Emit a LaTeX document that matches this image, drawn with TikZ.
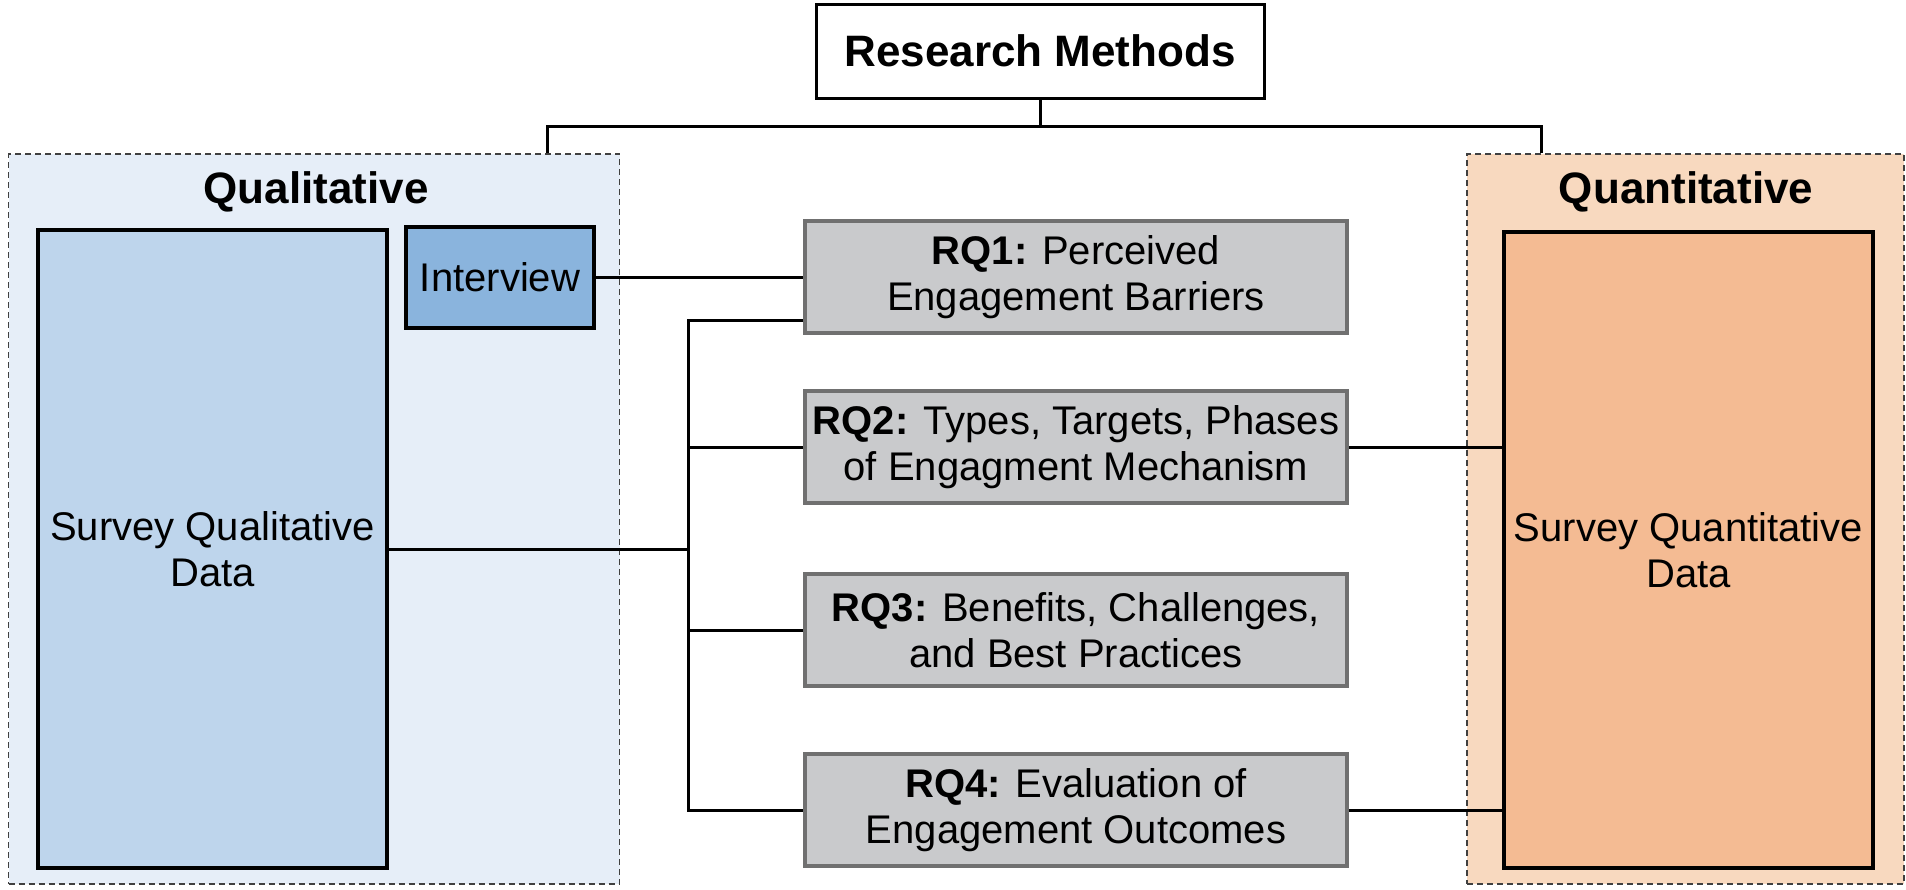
\documentclass[tikz,border=0pt]{standalone}
\usepackage{fontspec}
\setmainfont{Liberation Sans}
\usetikzlibrary{positioning}
\definecolor{qualbg}{HTML}{E6EEF8}
\definecolor{quantbg}{HTML}{F8D9BF}
\definecolor{sqfill}{HTML}{BED5EC}
\definecolor{sqtfill}{HTML}{F4BB93}
\definecolor{ivfill}{HTML}{8AB4DD}
\definecolor{rqfill}{HTML}{C9CACC}
\definecolor{rqborder}{HTML}{707070}
\definecolor{dashgray}{HTML}{404040}
\newcommand{\lblfont}{\fontsize{40}{46}\selectfont}
\newcommand{\ttlfont}{\fontsize{44}{50}\selectfont\bfseries}
\begin{document}
\begin{tikzpicture}[x=1pt,y=-1pt,line width=3pt,
        group/.style={draw=dashgray,dash pattern=on 6pt off 4pt,line width=1.6pt,minimum height=730pt},
        src/.style={draw,line width=3.5pt,align=center,font=\lblfont},
        rq/.style={draw=rqborder,fill=rqfill,line width=3.5pt,minimum width=542pt,minimum height=112pt,align=center,font=\lblfont}]
            \useasboundingbox (0,0) rectangle (1906,889);
            \node[group,fill=qualbg,minimum width=611pt] (qual) at (314,519) {};
            \node[group,fill=quantbg,minimum width=437pt] (quant) at (1685.5,519) {};
            \node[font=\ttlfont,anchor=base] (qualtitle) at (316,203) {Qualitative};
            \node[font=\ttlfont,anchor=base] (quanttitle) at (1686,203) {Quantitative};
            \node[draw,line width=3pt,minimum width=448pt,minimum height=94pt,font=\ttlfont] (rm) at (1040,51) {Research Methods};
            \node[src,fill=sqfill,minimum width=349pt,minimum height=638pt] (squal) at (212.5,549) {Survey Qualitative\\Data};
            \node[src,fill=ivfill,minimum width=188pt,minimum height=101pt] (iv) at (500,277.5) {Interview};
            \node[src,fill=sqtfill,minimum width=369pt,minimum height=636pt] (squant) at (1688.5,550) {Survey Quantitative\\Data};
            \begin{scope}[every node/.style={rq}]
                \node (rq1) at (1076,277) {\textbf{RQ1:} Perceived\\Engagement Barriers};
                \node (rq2) at (1076,447) {\textbf{RQ2:} Types, Targets, Phases\\of Engagment Mechanism};
                \node (rq3) at (1076,630) {\textbf{RQ3:} Benefits, Challenges,\\and Best Practices};
                \node (rq4) at (1076,810) {\textbf{RQ4:} Evaluation of\\Engagement Outcomes};
            \end{scope}
            \coordinate (split) at (1040,126);
            \coordinate (qlj) at (547,126);
            \coordinate (qtj) at (1541,126);
            \coordinate (bustop) at (688,320);
            \coordinate (busbot) at (688,810);
            \draw (rm.south) -- (split);
            \draw (qual.north -| qlj) -- (qlj) -- (qtj) -- (quant.north -| qtj);
            \draw (rq1.west |- bustop) -- (bustop) -- (busbot) -- (rq4.west);
            \begin{scope}[every edge/.style={draw,line width=3pt}]
                \path
                    (squal.east) edge (squal.east -| bustop)
                    (iv.east) edge (iv.east -| rq1.west)
                    (rq2.west) edge (rq2.west -| bustop)
                    (rq3.west) edge (rq3.west -| bustop)
                    (rq2.east) edge (rq2.east -| squant.west)
                    (rq4.east) edge (rq4.east -| squant.west);
            \end{scope}
        \end{tikzpicture}
\end{document}
